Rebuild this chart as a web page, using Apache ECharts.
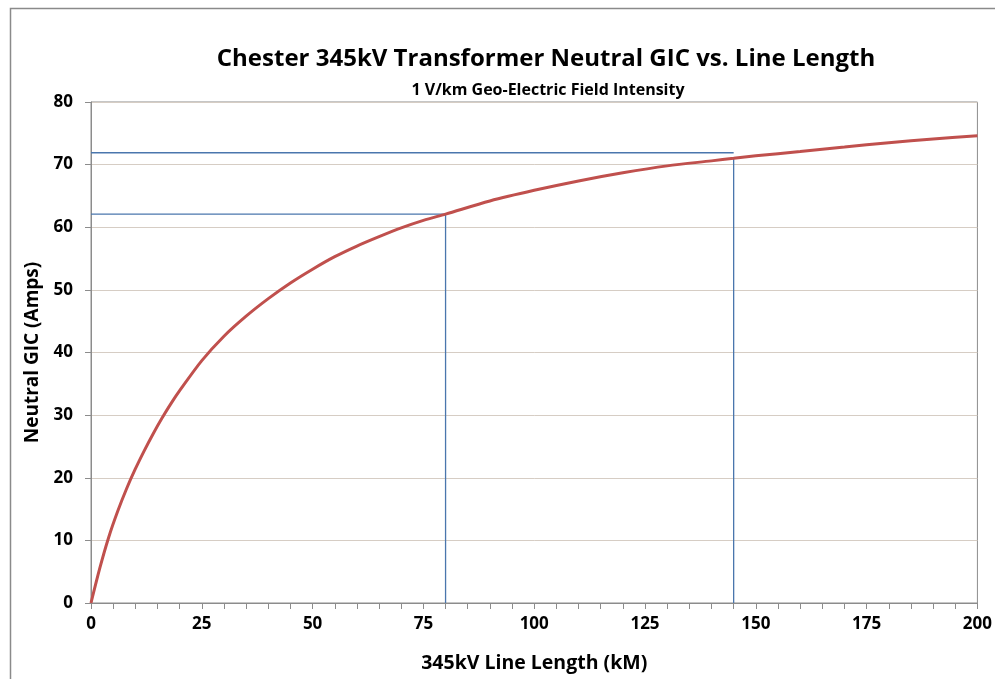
<!DOCTYPE html>
<html>
<head>
<meta charset="utf-8">
<script src="https://cdn.jsdelivr.net/npm/echarts@6/dist/echarts.min.js"></script>
<style>
  html, body { margin: 0; padding: 0; background: #fff; }
  #this_chart { width: 995px; height: 679px; }
</style>
</head>
<body>
<div id="this_chart"></div>
<script>
// line length (km) and neutral GIC (A)
const lengthKm = [0, 2, 4, 6, 8, 10, 12, 14, 16, 18, 20, 25, 30, 35, 40, 45, 50, 55, 60, 65, 70, 75, 80, 90, 100, 110, 120, 130, 140, 145, 150, 160, 170, 180, 190, 200];
const gicAmps = [0, 5.6, 10.5, 14.6, 18.2, 21.4, 24.3, 27.0, 29.5, 31.8, 33.9, 38.7, 42.6, 45.8, 48.6, 51.1, 53.3, 55.3, 57.0, 58.5, 59.9, 61.1, 62.1, 64.2, 65.9, 67.4, 68.7, 69.8, 70.6, 71.0, 71.4, 72.1, 72.8, 73.5, 74.1, 74.6];

// blue guide lines
const guide80H = [[0, 62.1], [80, 62.1]];
const guide80V = [[80, 0], [80, 62.1]];
const guide145H = [[0, 71.9], [145, 71.9]];
const guide145V = [[145, 0], [145, 71]];

const xTicks = [0, 200, 25];
const yTicks = [0, 80, 10];

const font = "'Open Sans', sans-serif";
const chart = echarts.init(document.getElementById("this_chart"), null, { renderer: "canvas" });

function guide(data) {
  return {
    type: "line",
    data: data,
    symbol: "none",
    silent: true,
    lineStyle: { color: "#4a76ad", width: 1.3 },
    z: 3
  };
}

chart.setOption({
  backgroundColor: "#fff",
  animation: false,
  title: [
    {
      text: "Chester 345kV Transformer Neutral GIC vs. Line Length",
      left: 541, top: 42, textAlign: "center",
      textStyle: { fontFamily: font, fontWeight: "bold", fontSize: 24, color: "#000" }
    },
    {
      text: "1 V/km Geo-Electric Field Intensity",
      left: 543, top: 77, textAlign: "center",
      textStyle: { fontFamily: font, fontWeight: "bold", fontSize: 16, color: "#000" }
    }
  ],
  graphic: [
    {
      type: "rect",
      shape: { x: 10.5, y: 8.5, width: 1000, height: 700 },
      style: { fill: null, stroke: "#8a8a8a", lineWidth: 1.5 },
      silent: true
    }
  ],
  grid: {
    left: 91, right: 17, top: 102, bottom: 76,
    show: true, borderColor: "#8c8c8c", borderWidth: 1
  },
  xAxis: {
    type: "value",
    min: xTicks[0], max: xTicks[1], interval: xTicks[2],
    name: "345kV Line Length (kM)",
    nameLocation: "middle", nameGap: 50,
    nameTextStyle: { fontFamily: font, fontWeight: "bold", fontSize: 19.5, color: "#000" },
    axisLine: { lineStyle: { color: "#8c8c8c" } },
    axisTick: { show: true, length: 6, lineStyle: { color: "#8c8c8c" } },
    minorTick: { show: true, splitNumber: 5, length: 6, lineStyle: { color: "#8c8c8c" } },
    splitLine: { show: false },
    axisLabel: { margin: 13, fontFamily: font, fontWeight: "bold", fontSize: 17, color: "#000" }
  },
  yAxis: {
    type: "value",
    min: yTicks[0], max: yTicks[1], interval: yTicks[2],
    name: "Neutral GIC (Amps)",
    nameLocation: "middle", nameGap: 49,
    nameTextStyle: { fontFamily: font, fontWeight: "bold", fontSize: 19, color: "#000" },
    axisLine: { show: true, lineStyle: { color: "#8c8c8c" } },
    axisTick: { show: true, length: 6, lineStyle: { color: "#8c8c8c" } },
    splitLine: { show: true, lineStyle: { color: "#d6cdc4", width: 1 } },
    axisLabel: { margin: 18, fontFamily: font, fontWeight: "bold", fontSize: 17, color: "#000" }
  },
  series: [
    guide(guide80H),
    guide(guide80V),
    guide(guide145H),
    guide(guide145V),
    {
      type: "line",
      data: lengthKm.map((x, i) => [x, gicAmps[i]]),
      smooth: 0.3,
      symbol: "none",
      lineStyle: { color: "#c0504d", width: 3 },
      z: 4
    }
  ]
});
</script>
</body>
</html>
